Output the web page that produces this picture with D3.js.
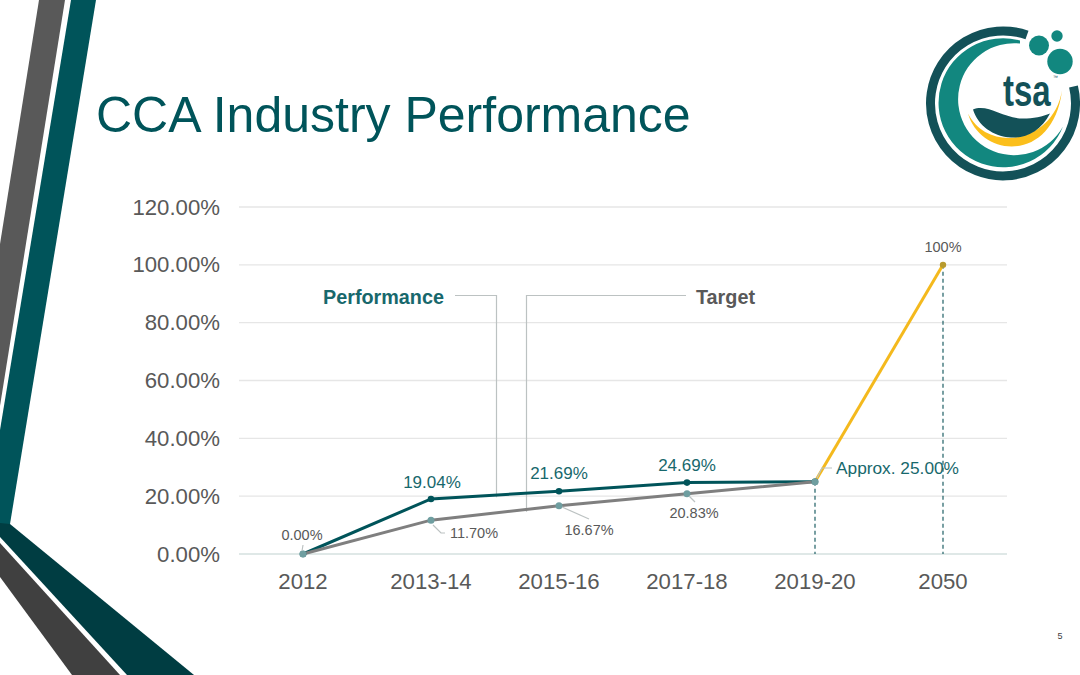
<!DOCTYPE html>
<html><head><meta charset="utf-8">
<script src="https://cdn.jsdelivr.net/npm/d3@7"></script>
<style>html,body{margin:0;padding:0;background:#fff}svg{display:block}text{font-family:"Liberation Sans",Arial,sans-serif}</style>
</head><body><div id="c"></div>
<script>
const categories=["2012","2013-14","2015-16","2017-18","2019-20","2050"];
const performance=[0,19.04,21.69,24.69,25];
const target=[0,11.7,16.67,20.83,25];
const outlook=[null,null,null,null,25,100];
const yTicks=[0,20,40,60,80,100,120];
const perfLabels=["19.04%","21.69%","24.69%","Approx. 25.00%"];
const targetLabels=["0.00%","11.70%","16.67%","20.83%"];

const svg=d3.select("#c").append("svg").attr("width",1080).attr("height",675);
const x=d3.scaleBand().domain(categories).range([239,1007]);
const y=d3.scaleLinear().domain([0,120]).range([554,207]);
const cx=c=>x(c)+x.bandwidth()/2;

// decoration
const deco=[
 ["#595959",[[39,0],[65,0],[0,406],[0,244]]],
 ["#00545a",[[71,0],[96,0],[10,524],[0,524],[0,430]]],
 ["#003d42",[[0,523],[10,524],[194,675],[127,675],[0,537]]],
 ["#404040",[[0,543],[120,675],[72,675],[0,577]]]
];
svg.selectAll("polygon.deco").data(deco).join("polygon").attr("class","deco")
 .attr("fill",d=>d[0]).attr("points",d=>d[1].join(" "));

svg.append("text").attr("x",96).attr("y",132).attr("font-size",50).attr("fill","#00545a").text("CCA Industry Performance");
svg.append("text").attr("x",1060).attr("y",639).attr("text-anchor","middle").attr("font-size",9).attr("fill","#404040").text("5");

// logo
const logo=svg.append("g").attr("transform","translate(1003,103.5)");
logo.append("path").attr("fill","none").attr("stroke","#135158").attr("stroke-width",9)
 .attr("d","M24,-68.5 A72.5,72.5 0 1 0 70.5,-17");
logo.append("path").attr("fill","#12877f").attr("d","M17,-63 A64.5,64.5 0 1 0 60,23 A56,56 0 1 1 17,-60 Z");
logo.append("path").attr("fill","#fbbf1c").attr("d","M-35,10 C-22,55 50,60 59,-13 C50,40 -15,50 -35,10 Z");
logo.append("path").attr("fill","#135158").attr("d","M-30,6 C-15,0 0,15 20,15 C30,15 40,13 47,10 C38,28 22,35 8,34 C-10,33 -25,22 -30,6 Z");
[[36,-58,10],[54,-67.5,5.7],[57,-42,12.7]].forEach(b=>logo.append("circle").attr("cx",b[0]).attr("cy",b[1]).attr("r",b[2]).attr("fill","#12877f"));
logo.append("text").attr("transform","translate(0,2) scale(0.75,1)").attr("font-size",44).attr("font-weight",700).attr("fill","#135158").text("tsa");
logo.append("text").attr("x",50).attr("y",-25).attr("font-size",5).attr("fill","#135158").text("™");

// grid and axis
svg.append("g").selectAll("line").data(yTicks).join("line")
 .attr("x1",239).attr("x2",1007).attr("y1",d=>y(d)).attr("y2",d=>y(d))
 .attr("stroke",d=>d===0?"#d4e0df":"#e6e6e6").attr("stroke-width",1.3);
svg.append("g").selectAll("text").data(yTicks).join("text")
 .attr("x",220).attr("y",d=>y(d)+7.5).attr("text-anchor","end").attr("font-size",22.2).attr("fill","#595959").text(d=>d.toFixed(2)+"%");
svg.append("g").selectAll("text").data(categories).join("text")
 .attr("x",cx).attr("y",589).attr("text-anchor","middle").attr("font-size",22.2).attr("fill","#595959").text(d=>d);

// drop lines
["2019-20","2050"].forEach(c=>{
 const v=outlook[categories.indexOf(c)];
 svg.append("line").attr("x1",cx(c)).attr("x2",cx(c)).attr("y1",y(v)).attr("y2",y(0))
  .attr("stroke","#1f5f65").attr("stroke-width",1.2).attr("stroke-dasharray","4 3");
});

// callouts
const leader=(pts,col)=>svg.append("path").attr("fill","none").attr("stroke",col||"#bcc2c2").attr("stroke-width",1.2).attr("d",d3.line()(pts));
leader([[455,295.5],[496.5,295.5],[496.5,y(20)+1]]);
leader([[686,295.5],[526.5,295.5],[526.5,y(14.6)]]);
svg.append("text").attr("x",323).attr("y",304).attr("font-size",19.8).attr("font-weight",700).attr("fill","#17686c").text("Performance");
svg.append("text").attr("x",696).attr("y",304).attr("font-size",19.8).attr("font-weight",700).attr("fill","#595959").text("Target");

// series
const line=d3.line().defined(d=>d!=null).x((d,i)=>cx(categories[i])).y(d=>y(d));
svg.append("path").attr("d",line(outlook)).attr("fill","none").attr("stroke","#f4b91d").attr("stroke-width",3);
svg.append("path").attr("d",line(performance)).attr("fill","none").attr("stroke","#00545a").attr("stroke-width",3);
svg.append("path").attr("d",line(target)).attr("fill","none").attr("stroke","#7f7f7f").attr("stroke-width",3);
svg.append("g").selectAll("circle").data(performance).join("circle")
 .attr("cx",(d,i)=>cx(categories[i])).attr("cy",d=>y(d)).attr("r",3.3).attr("fill","#00545a");
svg.append("g").selectAll("circle").data(target).join("circle")
 .attr("cx",(d,i)=>cx(categories[i])).attr("cy",d=>y(d)).attr("r",3.5).attr("fill","#6f9ea0");
svg.append("circle").attr("cx",cx("2050")).attr("cy",y(100)).attr("r",3.2).attr("fill","#b89b2e");

// leader ticks of labels
leader([[303,545],[302,551]]);
leader([[433,525],[441,533],[445,533]]);
leader([[562,507],[589,519]]);
leader([[689,496],[695,502]]);
leader([[817,478],[822,468],[832,468]]);

// labels
const pPos=[[432,488],[559,479],[687,471]];
perfLabels.slice(0,3).forEach((t,i)=>svg.append("text").attr("x",pPos[i][0]).attr("y",pPos[i][1]).attr("text-anchor","middle").attr("font-size",17).attr("fill","#17686c").text(t));
svg.append("text").attr("x",836).attr("y",474).attr("font-size",17.3).attr("fill","#17686c").text(perfLabels[3]);
const tPos=[[302,540],[474,538],[589,535],[694,518]];
targetLabels.forEach((t,i)=>svg.append("text").attr("x",tPos[i][0]).attr("y",tPos[i][1]).attr("text-anchor","middle").attr("font-size",14.5).attr("fill","#595959").text(t));
svg.append("text").attr("x",943).attr("y",252).attr("text-anchor","middle").attr("font-size",14.5).attr("fill","#595959").text("100%");
</script></body></html>
